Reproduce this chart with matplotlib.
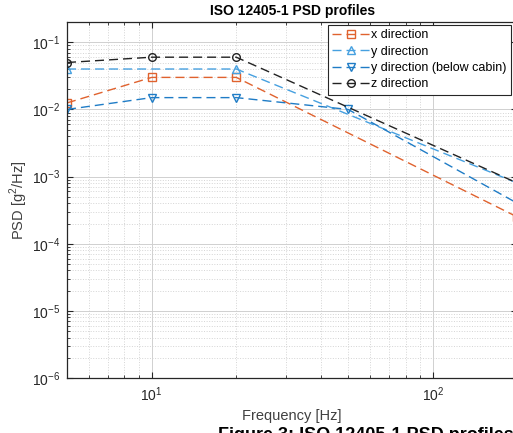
import matplotlib
matplotlib.use("Agg")
import matplotlib.pyplot as plt
from matplotlib.ticker import LogLocator, NullFormatter

plt.rcParams['font.family'] = ['Liberation Sans', 'DejaVu Sans']
plt.rcParams['mathtext.fontset'] = 'custom'
plt.rcParams['mathtext.rm'] = 'Liberation Sans'

# ISO 12405-1 PSD profiles (frequency in Hz, PSD in g^2/Hz)
f_x = [5, 10, 20, 200]
psd_x = [0.0125, 0.03, 0.03, 0.00025]

f_y = [5, 20, 200]
psd_y = [0.04, 0.04, 0.0008]

f_yb = [5, 10, 20, 50, 200]
psd_yb = [0.01, 0.015, 0.015, 0.01, 0.0004]

f_z = [5, 10, 20, 200]
psd_z = [0.05, 0.06, 0.06, 0.0008]

labels = ["x direction", "y direction", "y direction (below cabin)", "z direction"]
colors = ['#e0622e', '#46a0e0', '#1f7cc6', '#222222']
markers = ['s', '^', 'v', 'o']

fig = plt.figure(figsize=(5.13, 4.33), dpi=100)
ax = fig.add_axes([0.1306, 0.127, 0.878, 0.822])

series = [(f_x, psd_x), (f_y, psd_y), (f_yb, psd_yb), (f_z, psd_z)]
for (f, p), lab, c, m in zip(series, labels, colors, markers):
    ax.loglog(f, p, linestyle='--', dashes=(6.5, 3.6), color=c, lw=1.0,
              marker=m, markersize=5.5, markerfacecolor='none',
              markeredgecolor=c, markeredgewidth=1.0, label=lab)

ax.set_xlim(5, 200)
ax.set_ylim(1e-6, 0.2)

ax.xaxis.set_major_locator(LogLocator(base=10, numticks=10))
ax.xaxis.set_minor_locator(LogLocator(base=10, subs=range(2, 10), numticks=20))
ax.xaxis.set_minor_formatter(NullFormatter())
ax.yaxis.set_minor_formatter(NullFormatter())

ax.grid(True, which='major', color='#d0d0d0', linestyle='-', linewidth=0.7)
ax.grid(True, which='minor', color='#d4d4d4', linestyle=':', linewidth=0.7)
ax.set_axisbelow(True)

ax.tick_params(which='both', direction='in', top=True, right=True,
               colors='#262626', labelsize=10, pad=5)
ax.tick_params(which='major', length=4)
ax.tick_params(which='minor', length=2)
for s in ax.spines.values():
    s.set_color('#262626')
    s.set_linewidth(0.9)

ax.set_title("ISO 12405-1 PSD profiles", fontsize=10, fontweight='bold', pad=5)
ax.set_xlabel("Frequency [Hz]", fontsize=10.5, color='#404040', labelpad=4)
ax.set_ylabel("PSD [g$^2$/Hz]", fontsize=10.5, color='#404040', labelpad=1)

leg = ax.legend(loc='upper right', bbox_to_anchor=(0.985, 0.992), fontsize=9,
                handlelength=3.0, handletextpad=0.1, borderpad=0.35,
                labelspacing=0.35, fancybox=False, framealpha=1,
                edgecolor='#262626', borderaxespad=0)
leg.get_frame().set_linewidth(0.8)

# figure caption below the plot, only its upper part shows as in the source
fig.text(218 / 513, 1 - 427 / 433, "Figure 3: ISO 12405-1 PSD profiles",
         fontsize=13, fontweight='bold', va='top', ha='left')

fig.savefig("out.png", dpi=100)
